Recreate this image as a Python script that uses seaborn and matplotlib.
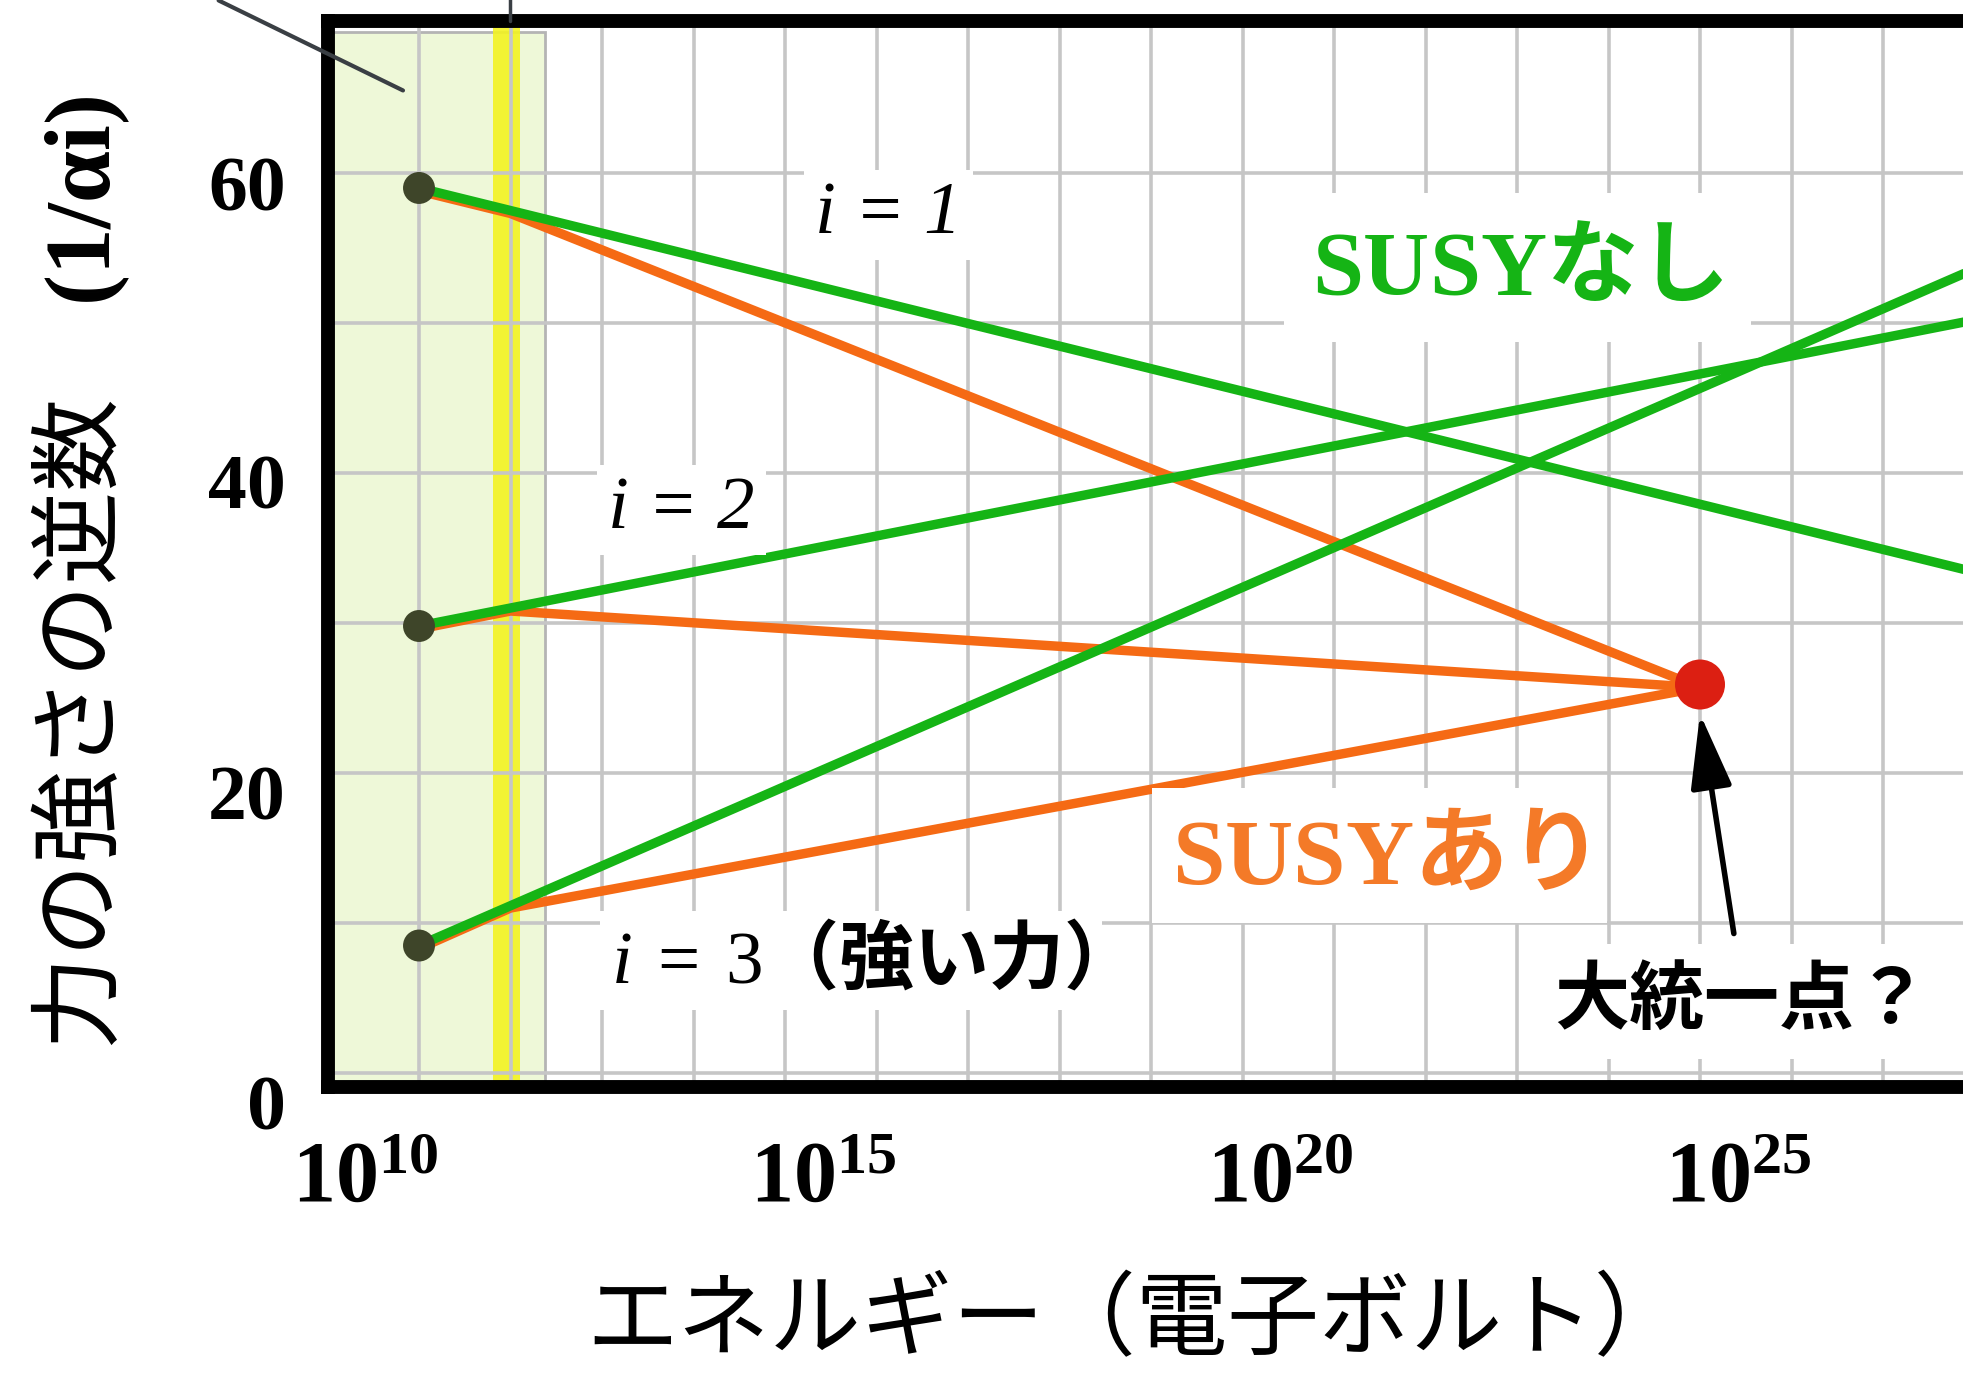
import numpy as np
import pandas as pd
import matplotlib
matplotlib.use("Agg")
import matplotlib.pyplot as plt
import seaborn as sns
from matplotlib.transforms import ScaledTranslation

# ---------------- data ----------------
# energies are given as log10(E / eV)
log_e_start = 11.0      # Z-boson mass
log_e_susy = 12.0       # SUSY threshold (~1 TeV)
log_e_gut = 25.0        # grand unification point
log_e_end = 28.0

forces = ["i=1", "i=2", "i=3"]
inv_alpha_start = [59.0, 29.8, 8.5]       # 1/alpha_i at the Z mass
inv_alpha_sm_end = [33.4, 50.2, 53.6]     # no SUSY, at 10^28 eV
inv_alpha_susy_kink = [57.5, 31.0, 11.2]  # at the SUSY threshold
inv_alpha_gut = 25.9                      # common value at unification

x_tick_exponents = [10, 15, 20, 25]
y_ticks = [0, 20, 40, 60]

accessible_range = (10.0, 12.38)   # shaded band: reachable energies
susy_band = (11.81, 12.10)         # yellow band: SUSY scale

# ---------------- style ----------------
GREEN = "#15b415"
ORANGE = "#f56a14"
ORANGE_TEXT = "#f47a28"
RED = "#dc1f12"
DOT = "#3e4529"
GRID = "#c6c6c6"

sns.set_theme(style="white")
plt.rcParams["font.family"] = ["Noto Sans CJK JP", "DejaVu Sans"]
plt.rcParams["mathtext.fontset"] = "custom"
plt.rcParams["mathtext.rm"] = "Liberation Serif"
plt.rcParams["mathtext.it"] = "Liberation Serif:italic"
plt.rcParams["mathtext.bf"] = "Liberation Serif:bold"
for key in ("text.color", "axes.labelcolor", "xtick.color", "ytick.color"):
    plt.rcParams[key] = "black"

W, H = 1963, 1373
fig = plt.figure(figsize=(W / 100, H / 100), dpi=100)
ax = fig.add_axes([327.5 / W, 286 / H, 1830 / W, 1066 / H])
ax.set_xlim(10, 30)
ax.set_ylim(-0.93, 70.13)

# grid
ax.set_xticks(x_tick_exponents)
ax.set_xticks(np.arange(10, 31), minor=True)
ax.set_yticks(y_ticks)
ax.set_yticks(np.arange(0, 71, 10), minor=True)
ax.set_axisbelow(True)
ax.grid(which="both", color=GRID, lw=2.6)
ax.tick_params(which="both", length=0)
ax.tick_params(axis="x", pad=33)
ax.tick_params(axis="y", pad=30)
for s in ax.spines.values():
    s.set_linewidth(10)
    s.set_color("black")

# shaded ranges
ax.axvspan(*accessible_range, ymin=0, ymax=(69.4 + 0.93) / 71.06,
           facecolor="#eef8d8", edgecolor="#b4b4b4", lw=2, zorder=0.2)
ax.axvspan(*susy_band, facecolor="#f3f322", edgecolor="none", alpha=0.9,
           zorder=0.3)

# running couplings
sm_rows, susy_rows = [], []
for f, s, e, k in zip(forces, inv_alpha_start, inv_alpha_sm_end,
                      inv_alpha_susy_kink):
    sm_rows += [dict(force=f, logE=log_e_start, inv=s),
                dict(force=f, logE=log_e_end, inv=e)]
    susy_rows += [dict(force=f, logE=log_e_start, inv=s),
                  dict(force=f, logE=log_e_susy, inv=k),
                  dict(force=f, logE=log_e_gut, inv=inv_alpha_gut)]
sm = pd.DataFrame(sm_rows)
susy = pd.DataFrame(susy_rows)

LW = 6.8
n0 = len(ax.lines)
sns.lineplot(data=susy, x="logE", y="inv", units="force", estimator=None,
             sort=False, color=ORANGE, lw=LW, ax=ax, legend=False)
shift = ScaledTranslation(0, -3 / 100, fig.dpi_scale_trans)
for ln in ax.lines[n0:]:
    ln.set_transform(ln.get_transform() + shift)
    ln.set_zorder(2.1)
n1 = len(ax.lines)
sns.lineplot(data=sm, x="logE", y="inv", units="force", estimator=None,
             sort=False, color=GREEN, lw=LW, ax=ax, legend=False)
for ln in ax.lines[n1:]:
    ln.set_zorder(2.2)

sns.scatterplot(x=[log_e_start] * 3, y=inv_alpha_start, s=23 ** 2,
                color=DOT, edgecolor="none", ax=ax, zorder=4, legend=False)
sns.scatterplot(x=[log_e_gut], y=[inv_alpha_gut], s=36 ** 2, color=RED,
                edgecolor="none", ax=ax, zorder=5, legend=False)

# arrow to the unification point
ax.annotate("", xy=(log_e_gut, inv_alpha_gut - 1.95), xytext=(25.37, 9.3),
            arrowprops=dict(arrowstyle="-|>,head_length=1.15,head_width=0.32",
                            mutation_scale=40, lw=4, color="black",
                            shrinkA=0, shrinkB=0), zorder=6)

# leader lines leaving the plot
ax.plot([8.81, 10.825], [71.5, 65.5], color="#3a3f44", lw=3,
        clip_on=False, zorder=6)
ax.plot([11.99, 11.99], [70.13, 72.0], color="#3a3f44", lw=2.5,
        clip_on=False, zorder=6)

# labels inside the plot
box = dict(facecolor="white", edgecolor="none", pad=8)
ax.text(16.13, 57.2, "i = 1", family="Liberation Serif", style="italic",
        fontsize=54, ha="center", va="center", bbox=box)
ax.text(13.87, 37.5, "i = 2", family="Liberation Serif", style="italic",
        fontsize=54, ha="center", va="center", bbox=box)
ax.text(15.72, 7.5, r"$\mathit{i\;=\;3}$（強い力）", fontsize=54,
        fontweight="bold", ha="center", va="center", bbox=box)
ax.text(23.01, 53.7, r"$\mathbf{SUSY}$なし", fontsize=66, color=GREEN,
        fontweight="bold", ha="center", va="center",
        bbox=dict(facecolor="white", edgecolor="none", pad=20))
ax.text(21.5, 14.5, r"$\mathbf{SUSY}$あり", fontsize=68, color=ORANGE_TEXT,
        fontweight="bold", ha="center", va="center",
        bbox=dict(facecolor="white", edgecolor="none", pad=14))
ax.text(25.46, 4.8, "大統一点？", fontsize=54, fontweight="bold",
        ha="center", va="center",
        bbox=dict(facecolor="white", edgecolor="none", pad=14))

# tick labels
ax.set_xticklabels([rf"$\mathbf{{10^{{{e}}}}}$" for e in x_tick_exponents],
                   fontsize=62)
ax.set_yticklabels([str(v) for v in y_ticks], fontsize=56,
                   family="Liberation Serif", fontweight="bold")
dx = ScaledTranslation(38 / 100, 0, fig.dpi_scale_trans)
for lab in ax.get_xticklabels():
    lab.set_transform(lab.get_transform() + dx)
for lab, off in zip(ax.get_yticklabels(), (29, 19, 9, 11)):
    lab.set_transform(lab.get_transform()
                      + ScaledTranslation(0, -off / 100, fig.dpi_scale_trans))

# axis titles
ax.set_xlabel("エネルギー（電子ボルト）", fontsize=66)
ax.xaxis.set_label_coords((1136 - 327.5) / 1830, (1087 - 1322) / 1066)
ax.xaxis.label.set_va("center")
ax.set_ylabel(r"力の強さの逆数　$\mathbf{(1/α i)}$", fontsize=67)
ax.yaxis.set_label_coords((81 - 327.5) / 1830, (1087 - 573) / 1066)
ax.yaxis.label.set_va("center")

fig.savefig("out.png", dpi=100)
